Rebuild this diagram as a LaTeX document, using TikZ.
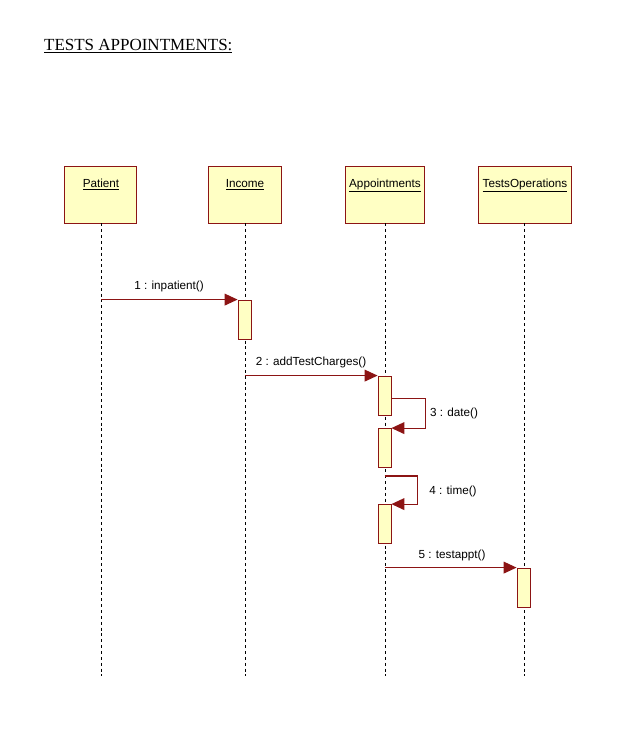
\documentclass[tikz,border=0pt]{standalone}
\usepackage{fontspec}
\setmainfont{Liberation Serif}
\setsansfont{Liberation Sans}
\usepackage{tikz}
\usetikzlibrary{arrows.meta, positioning, calc}
\definecolor{lifeyellow}{RGB}{255,255,196}
\definecolor{umlred}{RGB}{140,20,20}

\begin{document}
\begin{tikzpicture}[
  x=0.03cm, y=-0.03cm,
  every node/.style={font=\sffamily\fontsize{10}{12}\selectfont},
  headbox/.style={draw=umlred, fill=lifeyellow, line width=0.7pt, minimum height=57*0.03cm, inner sep=0pt},
  headname/.style={anchor=base},
  actbox/.style={draw=umlred, fill=lifeyellow, line width=0.7pt, minimum width=13*0.03cm, minimum height=39*0.03cm, inner sep=0pt},
  lifeline/.style={black, line width=0.5pt, dash pattern=on 2.5pt off 2.5pt},
  msg/.style={umlred, line width=1pt, -{Triangle[length=11pt,width=10pt]}},
]
  \useasboundingbox (0,0) rectangle (627,748);

  % Title
  \node[font=\rmfamily\fontsize{14.5}{16}\selectfont, anchor=west] (title) at (40,46) {\underline{TESTS APPOINTMENTS:}};

  % Object heads
  \node[headbox, minimum width=72*0.03cm] (patient) at (100,194.5) {};
  \node[headbox, minimum width=73*0.03cm] (income) at (244.5,194.5) {};
  \node[headbox, minimum width=79*0.03cm] (appt) at (384.5,194.5) {};
  \node[headbox, minimum width=93*0.03cm] (tests) at (524.5,194.5) {};
  \node[headname] (patientname) at (101,187) {\underline{Patient}};
  \node[headname] (incomename) at (245,187) {\underline{Income}};
  \node[headname] (apptname) at (385,187) {\underline{Appointments}};
  \node[headname] (testsname) at (525,187) {\underline{TestsOperations}};

  % Lifelines
  \coordinate (patientend) at (101,676);
  \coordinate (incomeend) at (245,676);
  \coordinate (apptend) at (385,676);
  \coordinate (testsend) at (524,676);
  \draw[lifeline] (patient.south -| patientend) -- (patientend);
  \draw[lifeline] (income.south -| incomeend) -- (incomeend);
  \draw[lifeline] (appt.south -| apptend) -- (apptend);
  \draw[lifeline] (tests.south -| testsend) -- (testsend);

  % Activations
  \node[actbox] (act1) at (244.5,319.5) {};
  \node[actbox] (act2a) at (384.5,395.5) {};
  \node[actbox] (act2b) at (384.5,448) {};
  \node[actbox] (act2c) at (384.5,524) {};
  \node[actbox] (act3) at (523.5,587.5) {};

  % Messages
  \draw[msg] (patientend |- act1.north west) -- (act1.north west);
  \node (m1) at (169,286) {1 : inpatient()};

  \draw[msg] (incomeend |- act2a.north west) -- (act2a.north west);
  \node (m2) at (311,362) {2 : addTestCharges()};

  \draw[msg] ($(act2a.north east)+(0,23)$) -- ++(34,0) |- (act2b.north east);
  \node (m3) at (454,413) {3 : date()};

  \draw[msg] ($(act2b.south)+(0,8)$) -- ++(33,0) |- (act2c.north east);
  \node (m4) at (453,491) {4 : time()};

  \draw[msg] (apptend |- act3.north west) -- (act3.north west);
  \node (m5) at (452,555) {5 : testappt()};
\end{tikzpicture}
\end{document}
